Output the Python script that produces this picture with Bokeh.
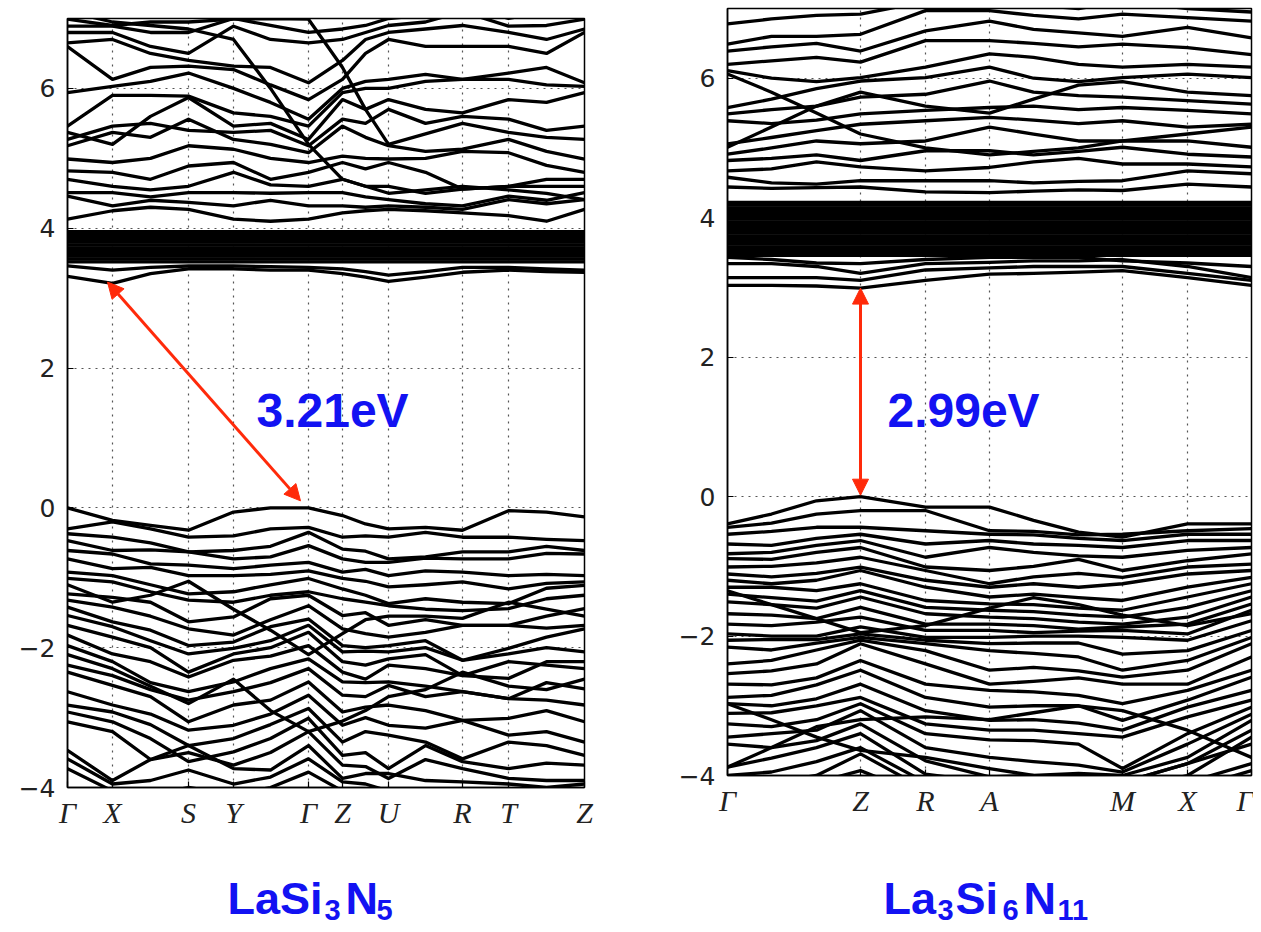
from bokeh.plotting import figure
from bokeh.layouts import row, column
from bokeh.models import Range1d, FixedTicker, Label, Arrow, NormalHead
from bokeh.core.properties import value
from bokeh.embed import file_html
from bokeh.resources import INLINE

# ---------------- LaSi3N5 (left) ----------------
lasi_kpath_ticks = [0, 45, 121, 166, 241, 275, 321, 395, 441, 517]
lasi_kpath_labels = ["Γ", "X", "S", "Y", "Γ", "Z", "U", "R", "T", "Z"]
# sample positions along the path: G X m S Y m G Z m U m R T m Z
lasi_k = [0, 45, 83, 121, 166, 203, 241, 275, 298, 321, 358, 395, 441, 479, 517]

lasi_valence = [
    [0.0, -0.18, -0.25, -0.32, -0.06, 0.0, 0.0, -0.11, -0.23, -0.30, -0.28, -0.32, -0.04, -0.06, -0.13],
    [-0.30, -0.20, -0.30, -0.42, -0.40, -0.30, -0.28, -0.42, -0.40, -0.42, -0.35, -0.42, -0.42, -0.45, -0.47],
    [-0.37, -0.42, -0.50, -0.63, -0.61, -0.55, -0.35, -0.59, -0.62, -0.73, -0.70, -0.63, -0.63, -0.55, -0.61],
    [-0.47, -0.61, -0.60, -0.63, -0.73, -0.70, -0.54, -0.73, -0.78, -0.78, -0.72, -0.73, -0.73, -0.65, -0.66],
    [-0.61, -0.66, -0.80, -0.82, -0.87, -0.82, -0.78, -0.92, -0.88, -0.97, -0.90, -0.92, -0.97, -0.95, -0.97],
    [-0.73, -0.87, -0.85, -0.97, -0.97, -0.95, -0.90, -1.01, -1.05, -1.13, -1.10, -1.06, -1.16, -1.08, -1.06],
    [-0.92, -0.97, -1.10, -1.23, -1.20, -1.10, -1.01, -1.16, -1.25, -1.37, -1.30, -1.35, -1.37, -1.15, -1.11],
    [-1.01, -1.06, -1.20, -1.32, -1.35, -1.25, -1.20, -1.30, -1.35, -1.40, -1.45, -1.47, -1.44, -1.30, -1.25],
    [-1.23, -1.28, -1.35, -1.63, -1.56, -1.30, -1.25, -1.54, -1.50, -1.68, -1.60, -1.68, -1.68, -1.55, -1.44],
    [-1.32, -1.42, -1.55, -1.73, -1.82, -1.60, -1.40, -1.73, -1.80, -1.85, -1.78, -1.68, -1.68, -1.72, -1.68],
    [-1.42, -1.63, -1.75, -1.97, -1.92, -1.70, -1.59, -1.97, -2.00, -1.97, -1.90, -2.18, -2.01, -1.85, -1.73],
    [-1.54, -1.70, -1.90, -2.09, -2.01, -1.90, -1.68, -2.06, -2.05, -2.06, -2.00, -2.18, -2.09, -2.00, -2.06],
    [-1.68, -1.85, -2.00, -2.35, -2.09, -2.00, -1.78, -2.20, -2.25, -2.16, -2.10, -2.40, -2.44, -2.20, -2.20],
    [-1.82, -2.09, -2.20, -2.42, -2.18, -2.12, -1.97, -2.35, -2.45, -2.25, -2.30, -2.40, -2.20, -2.25, -2.30],
    [-1.97, -2.20, -2.50, -2.63, -2.49, -2.30, -2.16, -2.49, -2.50, -2.49, -2.55, -2.63, -2.73, -2.50, -2.59],
    [-2.25, -2.40, -2.60, -2.75, -2.63, -2.50, -2.30, -2.68, -2.70, -2.54, -2.70, -2.63, -2.73, -2.75, -2.82],
    [-2.35, -2.54, -2.70, -3.06, -2.82, -2.75, -2.49, -2.92, -2.85, -2.82, -2.90, -3.04, -3.01, -2.90, -3.06],
    [-2.63, -2.82, -2.95, -3.18, -3.11, -2.95, -2.68, -3.11, -3.00, -3.11, -3.15, -3.04, -3.25, -3.20, -3.35],
    [-2.82, -2.92, -3.10, -3.40, -3.30, -3.10, -2.87, -3.35, -3.20, -3.25, -3.35, -3.59, -3.35, -3.40, -3.54],
    [-2.92, -3.06, -3.30, -3.63, -3.49, -3.30, -3.01, -3.54, -3.50, -3.73, -3.40, -3.63, -3.73, -3.65, -3.68],
    [-3.06, -3.20, -3.60, -3.50, -3.68, -3.50, -3.20, -3.68, -3.70, -3.87, -3.60, -3.73, -3.87, -3.90, -3.90],
    [-3.47, -3.90, -3.60, -3.40, -3.73, -3.75, -3.40, -3.87, -3.80, -3.80, -3.90, -3.92, -3.95, -4.00, -3.95],
    [-3.59, -3.95, -3.90, -3.75, -3.95, -3.85, -3.59, -3.92, -3.95, -4.05, -4.10, -4.05, -4.10, -4.10, -4.05],
    [-3.73, -4.05, -4.10, -4.00, -4.10, -4.00, -3.78, -4.05, -4.10, -4.10, -4.20, -4.15, -4.10, -4.20, -4.20],
    [-2.10, -2.30, -2.55, -2.80, -2.45, -2.90, -3.20, -3.05, -2.90, -2.70, -2.60, -2.35, -2.55, -2.60, -2.45],
    [-1.10, -1.35, -1.25, -1.05, -1.45, -1.75, -2.10, -1.80, -1.60, -1.55, -1.55, -1.58, -1.35, -1.45, -1.55],
]

lasi_conduction = [
    [3.31, 3.21, 3.35, 3.42, 3.42, 3.40, 3.40, 3.35, 3.30, 3.24, 3.30, 3.37, 3.40, 3.38, 3.37],
    [3.46, 3.40, 3.44, 3.46, 3.46, 3.45, 3.44, 3.42, 3.38, 3.33, 3.38, 3.44, 3.44, 3.42, 3.40],
    [4.13, 4.25, 4.30, 4.27, 4.13, 4.10, 4.13, 4.22, 4.25, 4.27, 4.25, 4.22, 4.18, 4.10, 4.27],
    [4.46, 4.32, 4.40, 4.37, 4.32, 4.40, 4.32, 4.32, 4.30, 4.32, 4.30, 4.27, 4.41, 4.35, 4.41],
    [4.51, 4.51, 4.45, 4.51, 4.51, 4.50, 4.51, 4.51, 4.45, 4.41, 4.35, 4.32, 4.46, 4.40, 4.51],
    [4.70, 4.60, 4.55, 4.60, 4.80, 4.62, 4.60, 4.70, 4.60, 4.60, 4.50, 4.56, 4.60, 4.60, 4.60],
    [4.82, 4.80, 4.70, 4.89, 4.94, 4.70, 4.80, 4.94, 4.85, 4.94, 4.80, 4.56, 4.60, 4.70, 4.70],
    [4.99, 4.94, 5.00, 5.18, 5.13, 5.00, 4.94, 5.03, 5.00, 4.99, 5.00, 5.10, 5.08, 4.90, 4.80],
    [5.18, 5.37, 5.30, 5.56, 5.27, 5.20, 5.08, 5.46, 5.30, 5.18, 5.10, 5.13, 5.27, 5.10, 4.99],
    [5.27, 5.46, 5.50, 5.40, 5.37, 5.40, 5.18, 5.56, 5.50, 5.70, 5.50, 5.60, 5.56, 5.40, 5.46],
    [5.37, 5.20, 5.60, 5.87, 5.46, 5.50, 5.27, 5.84, 5.70, 5.84, 5.70, 5.65, 5.84, 5.80, 5.94],
    [5.46, 5.90, 5.90, 5.89, 5.65, 5.60, 5.46, 5.94, 6.00, 6.00, 6.10, 6.13, 6.13, 6.05, 6.03],
    [5.94, 6.03, 6.10, 6.22, 6.00, 5.80, 5.56, 6.00, 6.10, 6.13, 6.20, 6.13, 6.22, 6.30, 6.08],
    [6.60, 6.13, 6.30, 6.32, 6.27, 6.05, 5.84, 6.13, 6.50, 6.70, 6.60, 6.60, 6.60, 6.50, 6.80],
    [6.65, 6.70, 6.50, 6.40, 6.32, 6.30, 6.08, 6.40, 6.70, 6.80, 6.85, 6.90, 6.80, 6.70, 6.85],
    [6.80, 6.80, 6.60, 6.50, 6.89, 6.70, 6.65, 6.70, 6.80, 6.90, 6.95, 7.10, 6.89, 6.90, 6.99],
    [6.89, 6.89, 6.80, 6.80, 7.00, 6.90, 6.80, 6.85, 6.90, 7.00, 7.05, 7.20, 7.00, 7.10, 7.10],
    [7.10, 6.95, 6.90, 6.85, 6.70, 6.00, 5.20, 4.70, 4.60, 4.50, 4.55, 4.60, 4.55, 4.50, 4.41],
    [6.99, 6.90, 6.95, 6.95, 6.99, 7.00, 6.99, 6.30, 5.70, 5.20, 5.35, 5.50, 5.37, 5.30, 5.27],
]
# nearly flat La-4f bands forming the dense block
lasi_flat_levels = [3.52, 3.56, 3.60, 3.64, 3.68, 3.72, 3.76, 3.80, 3.84, 3.88, 3.92, 3.95]

# ---------------- La3Si6N11 (right) ----------------
la3_kpath_ticks = [0, 133, 198, 262, 395, 460, 524]
la3_kpath_labels = ["Γ", "Z", "R", "A", "M", "X", "Γ"]
# sample positions: G q q Z R A m m M X G
la3_k = [0, 44, 89, 133, 198, 262, 306, 351, 395, 460, 524]

la3_valence = [
    [-0.39, -0.25, -0.06, 0.0, -0.15, -0.15, -0.34, -0.51, -0.58, -0.39, -0.39],
    [-0.44, -0.38, -0.25, -0.20, -0.20, -0.49, -0.50, -0.55, -0.54, -0.49, -0.46],
    [-0.54, -0.50, -0.44, -0.44, -0.49, -0.54, -0.55, -0.60, -0.63, -0.54, -0.54],
    [-0.68, -0.70, -0.60, -0.54, -0.68, -0.63, -0.68, -0.70, -0.73, -0.63, -0.63],
    [-0.82, -0.80, -0.70, -0.63, -0.87, -0.73, -0.80, -0.85, -0.87, -0.77, -0.73],
    [-0.89, -0.90, -0.80, -0.73, -1.01, -1.06, -1.00, -0.90, -1.06, -0.92, -0.82],
    [-1.01, -1.00, -0.95, -0.87, -1.06, -1.25, -1.15, -1.10, -1.16, -1.01, -0.97],
    [-1.11, -1.15, -1.10, -1.01, -1.20, -1.30, -1.25, -1.30, -1.25, -1.11, -1.06],
    [-1.20, -1.25, -1.20, -1.06, -1.30, -1.44, -1.40, -1.45, -1.49, -1.30, -1.16],
    [-1.30, -1.30, -1.35, -1.25, -1.49, -1.54, -1.55, -1.60, -1.63, -1.44, -1.25],
    [-1.40, -1.45, -1.50, -1.35, -1.59, -1.63, -1.65, -1.70, -1.73, -1.59, -1.35],
    [-1.51, -1.55, -1.60, -1.44, -1.68, -1.73, -1.75, -1.80, -1.83, -1.73, -1.44],
    [-1.68, -1.70, -1.75, -1.59, -1.83, -1.83, -1.85, -1.90, -1.87, -1.83, -1.54],
    [-1.83, -1.85, -1.80, -1.73, -1.92, -1.92, -1.95, -1.93, -1.92, -1.97, -1.63],
    [-1.97, -2.00, -2.00, -1.87, -2.02, -2.02, -2.00, -2.00, -2.02, -2.06, -1.78],
    [-2.06, -2.05, -2.05, -1.97, -2.06, -2.11, -2.10, -2.10, -2.26, -2.21, -1.92],
    [-2.16, -2.20, -2.10, -2.02, -2.11, -2.21, -2.25, -2.30, -2.49, -2.35, -2.02],
    [-2.40, -2.35, -2.20, -2.06, -2.21, -2.49, -2.45, -2.50, -2.59, -2.49, -2.11],
    [-2.54, -2.50, -2.40, -2.11, -2.40, -2.69, -2.65, -2.60, -2.69, -2.69, -2.30],
    [-2.69, -2.70, -2.60, -2.35, -2.69, -2.78, -2.80, -2.85, -2.97, -2.78, -2.49],
    [-2.88, -2.85, -2.70, -2.49, -2.88, -3.02, -3.00, -3.00, -3.21, -2.92, -2.59],
    [-2.97, -3.00, -2.90, -2.69, -3.07, -3.21, -3.20, -3.25, -3.35, -3.02, -2.78],
    [-3.11, -3.10, -3.00, -2.88, -3.26, -3.35, -3.35, -3.40, -3.45, -3.16, -2.92],
    [-3.26, -3.30, -3.20, -2.97, -3.40, -3.49, -3.50, -3.55, -3.90, -3.40, -3.02],
    [-3.45, -3.40, -3.35, -3.07, -3.60, -3.74, -3.80, -3.85, -3.95, -3.55, -3.12],
    [-3.55, -3.60, -3.50, -3.26, -3.79, -4.02, -4.00, -3.97, -4.00, -3.74, -3.21],
    [-3.88, -3.75, -3.60, -3.40, -3.98, -4.10, -4.10, -4.10, -4.10, -3.83, -3.35],
    [-4.00, -3.95, -3.80, -3.60, -4.10, -4.20, -4.20, -4.20, -4.20, -4.00, -3.45],
    [-4.10, -4.10, -4.00, -3.69, -4.20, -4.30, -4.30, -4.30, -4.30, -4.10, -3.83],
    [-4.20, -4.20, -4.10, -3.93, -4.30, -4.40, -4.40, -4.40, -4.40, -4.20, -3.93],
    [-2.97, -3.20, -3.45, -3.64, -3.74, -3.90, -4.00, -4.05, -4.10, -3.83, -3.55],
    [-3.88, -3.60, -3.30, -3.20, -3.16, -3.20, -3.10, -3.00, -3.07, -3.35, -3.74],
    [-1.35, -1.55, -1.75, -1.95, -1.85, -1.60, -1.45, -1.55, -1.70, -1.85, -1.68],
]

la3_conduction = [
    [3.03, 3.03, 3.02, 2.99, 3.10, 3.19, 3.20, 3.22, 3.24, 3.14, 3.03],
    [3.14, 3.14, 3.14, 3.10, 3.25, 3.28, 3.30, 3.30, 3.30, 3.20, 3.10],
    [3.34, 3.34, 3.30, 3.20, 3.34, 3.36, 3.38, 3.38, 3.40, 3.30, 3.14],
    [3.43, 3.40, 3.35, 3.34, 3.40, 3.43, 3.43, 3.43, 3.38, 3.35, 3.30],
    [4.44, 4.42, 4.43, 4.44, 4.37, 4.36, 4.38, 4.40, 4.39, 4.48, 4.44],
    [4.58, 4.50, 4.48, 4.53, 4.53, 4.53, 4.50, 4.52, 4.53, 4.67, 4.63],
    [4.67, 4.70, 4.80, 4.73, 4.67, 4.72, 4.80, 4.85, 4.77, 4.77, 4.73],
    [4.82, 4.85, 4.90, 4.82, 4.96, 4.96, 4.90, 4.95, 5.01, 4.91, 4.87],
    [4.91, 5.00, 5.10, 5.06, 5.10, 5.30, 5.20, 5.10, 5.10, 5.10, 5.01],
    [5.06, 5.15, 5.25, 5.34, 5.39, 5.44, 5.40, 5.35, 5.39, 5.30, 5.34],
    [5.39, 5.35, 5.40, 5.49, 5.54, 5.58, 5.60, 5.55, 5.58, 5.54, 5.49],
    [5.49, 5.55, 5.60, 5.73, 5.77, 5.96, 5.80, 5.75, 5.73, 5.68, 5.63],
    [5.58, 5.70, 5.85, 5.96, 6.01, 6.16, 6.00, 5.95, 6.01, 6.06, 6.01],
    [6.11, 6.00, 5.95, 6.01, 6.16, 6.35, 6.30, 6.20, 6.16, 6.20, 6.16],
    [6.20, 6.25, 6.30, 6.23, 6.54, 6.54, 6.50, 6.45, 6.49, 6.44, 6.34],
    [6.39, 6.45, 6.50, 6.39, 6.68, 6.82, 6.70, 6.65, 6.60, 6.73, 6.58],
    [6.49, 6.60, 6.60, 6.63, 6.97, 6.97, 6.90, 6.85, 6.92, 6.87, 6.82],
    [6.78, 6.85, 6.90, 6.92, 7.10, 7.10, 7.05, 7.00, 7.10, 7.00, 6.95],
    [6.06, 5.80, 5.50, 5.20, 5.00, 4.90, 4.95, 5.00, 5.10, 5.20, 5.30],
    [5.01, 5.30, 5.60, 5.80, 5.60, 5.50, 5.70, 5.90, 5.95, 5.80, 5.75],
]
la3_flat_levels = [3.46, 3.50, 3.54, 3.58, 3.62, 3.66, 3.70, 3.74, 3.78, 3.82,
                   3.86, 3.90, 3.94, 3.98, 4.02, 4.06, 4.10, 4.14, 4.18, 4.22]

energy_ticks = [-4, -2, 0, 2, 4, 6]

BAND_W = 3.3
BLUE = "#1212f2"
RED = "#ff2a0a"


def make_panel(width, height, bl, br, bt, bb, kmax, kticks, klabels, ks, bands, flat):
    p = figure(width=width, height=height, x_range=Range1d(0, kmax), y_range=Range1d(-4, 7),
               output_backend="svg", toolbar_location=None,
               min_border_left=bl, min_border_right=br, min_border_top=bt, min_border_bottom=bb)
    p.frame_align = False
    p.background_fill_color = "white"
    p.border_fill_color = "white"
    p.outline_line_color = "black"
    p.outline_line_width = 1.5

    p.xaxis.ticker = FixedTicker(ticks=kticks)
    p.xaxis.major_label_overrides = {t: l for t, l in zip(kticks, klabels)}
    p.xaxis.major_label_text_font = "Liberation Serif"
    p.xaxis.major_label_text_font_style = "italic"
    p.xaxis.major_label_text_font_size = "30px"
    p.xaxis.major_label_text_color = "#222222"
    p.xaxis.major_label_standoff = 8

    p.yaxis.ticker = FixedTicker(ticks=energy_ticks)
    p.yaxis.major_label_overrides = {t: (("\u2212" + str(-t)) if t < 0 else str(t)) for t in energy_ticks}
    p.yaxis.major_label_text_font = "DejaVu Sans"
    p.yaxis.major_label_text_font_size = "25px"
    p.yaxis.major_label_text_color = "#222222"
    p.yaxis.major_label_standoff = 12

    for ax in (p.xaxis, p.yaxis):
        ax.major_tick_in = 6
        ax.major_tick_out = 0
        ax.minor_tick_line_color = None
        ax.axis_line_color = "black"
        ax.axis_line_width = 1.5
        ax.major_tick_line_color = "black"
        ax.major_tick_line_width = 1.2

    p.xgrid.ticker = FixedTicker(ticks=kticks[1:-1])
    p.ygrid.ticker = FixedTicker(ticks=[-2, 0, 2, 4, 6])
    for g in (p.xgrid, p.ygrid):
        g.grid_line_color = "#555555"
        g.grid_line_dash = "2 5"
        g.grid_line_width = 1.2

    xs = [ks for _ in bands] + [[0, kmax] for _ in flat]
    ys = [b for b in bands] + [[lv, lv] for lv in flat]
    p.multi_line(xs, ys, line_color="black", line_width=BAND_W, line_join="round", line_cap="round")
    return p


PANEL_H = 837
p1 = make_panel(660, PANEL_H, 67, 76, 18, PANEL_H - 18 - 769, 517, lasi_kpath_ticks, lasi_kpath_labels,
                lasi_k, lasi_valence + lasi_conduction, lasi_flat_levels)
p2 = make_panel(593, PANEL_H, 67, 2, 8, PANEL_H - 8 - 767, 524, la3_kpath_ticks, la3_kpath_labels,
                la3_k, la3_valence + la3_conduction, la3_flat_levels)

# gap arrows
p1.add_layout(Arrow(start=NormalHead(size=16, fill_color=RED, line_color=RED),
                    end=NormalHead(size=16, fill_color=RED, line_color=RED),
                    x_start=40, y_start=3.23, x_end=233, y_end=0.10,
                    line_color=RED, line_width=3))
p2.add_layout(Arrow(start=NormalHead(size=16, fill_color=RED, line_color=RED),
                    end=NormalHead(size=16, fill_color=RED, line_color=RED),
                    x_start=133, y_start=0.02, x_end=133, y_end=2.99,
                    line_color=RED, line_width=3))

for p, x, y, txt in ((p1, 189, 1.386, "3.21eV"), (p2, 160, 1.233, "2.99eV")):
    p.add_layout(Label(x=x, y=y, text=txt, text_font="Liberation Sans", text_font_style="bold",
                       text_font_size="48px", text_color=BLUE, text_baseline="alphabetic",
                       text_align="left"))

# compound names (with subscripts) in a strip below both panels
NAME_H = 91
names = figure(width=1253, height=NAME_H, x_range=Range1d(0, 1253), y_range=Range1d(0, NAME_H),
               x_axis_type=None, y_axis_type=None, output_backend="svg", toolbar_location=None,
               min_border=0, title_location=None)
names.frame_align = False
names.outline_line_color = None
names.grid.visible = False

name_main_x = [227, 345, 883, 955, 1023]
name_main_txt = ["LaSi", "N", "La", "Si", "N"]
name_sub_x = [324, 376, 937, 1002, 1057]
name_sub_txt = ["3", "5", "3", "6", "11"]
names.text(x=name_main_x, y=[30] * len(name_main_x), text=name_main_txt,
           text_font=value("Liberation Sans"), text_font_style="bold", text_font_size="45px",
           text_color=BLUE, text_baseline="alphabetic", text_align="left")
names.text(x=name_sub_x, y=[19] * len(name_sub_x), text=name_sub_txt,
           text_font=value("Liberation Sans"), text_font_style="bold", text_font_size="29px",
           text_color=BLUE, text_baseline="alphabetic", text_align="left")

layout = column(row(p1, p2), names)
open("out.html", "w").write(file_html(layout, INLINE))
